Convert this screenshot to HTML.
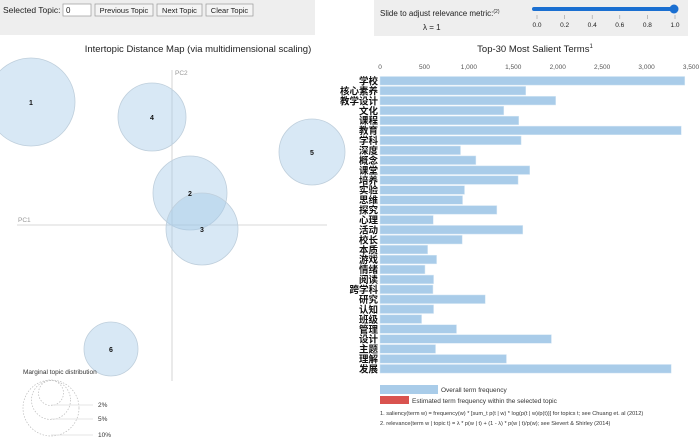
<!DOCTYPE html>
<html><head><meta charset="utf-8">
<style>
body{margin:0;width:700px;height:438px;overflow:hidden;background:#fff;font-family:"Liberation Sans","Noto Sans CJK SC",sans-serif;}
svg text{font-family:"Liberation Sans","Noto Sans CJK SC",sans-serif;}
</style></head><body>
<svg width="700" height="438" xmlns="http://www.w3.org/2000/svg" id="root">
<rect x="0" y="0" width="315" height="35" fill="#eeeeee"/>
<text x="3" y="13" font-size="8.5" fill="#222">Selected Topic:</text>
<rect x="63" y="4" width="28" height="12" fill="#fff" stroke="#999" stroke-width="0.7"/>
<text x="66" y="13" font-size="8" fill="#222">0</text>
<g><rect x="95" y="4" width="58" height="12" fill="#f4f4f4" stroke="#999" stroke-width="0.7"/><text x="124" y="13" font-size="7.5" text-anchor="middle" fill="#222">Previous Topic</text></g>
<g><rect x="157" y="4" width="45" height="12" fill="#f4f4f4" stroke="#999" stroke-width="0.7"/><text x="179.5" y="13" font-size="7.5" text-anchor="middle" fill="#222">Next Topic</text></g>
<g><rect x="206" y="4" width="47" height="12" fill="#f4f4f4" stroke="#999" stroke-width="0.7"/><text x="229.5" y="13" font-size="7.5" text-anchor="middle" fill="#222">Clear Topic</text></g>

<rect x="374" y="0" width="314" height="36" fill="#eeeeee"/>
<text x="380" y="16" font-size="8" fill="#222">Slide to adjust relevance metric:<tspan font-size="5" dy="-3">(2)</tspan></text>
<text x="423" y="30" font-size="8" fill="#222">λ = 1</text>
<line x1="534" y1="9" x2="675" y2="9" stroke="#1a6fd1" stroke-width="4" stroke-linecap="round"/>
<circle cx="674" cy="9" r="4.5" fill="#1a6fd1"/>
<g id="slider-ticks" font-size="6.5" fill="#222" text-anchor="middle"></g>

<text x="198" y="52" font-size="9.5" text-anchor="middle" fill="#222">Intertopic Distance Map (via multidimensional scaling)</text>
<text x="535" y="52" font-size="9.5" text-anchor="middle" fill="#222">Top-30 Most Salient Terms<tspan font-size="6" dy="-4">1</tspan></text>

<g>
<line x1="172" y1="70" x2="172" y2="381" stroke="#ccc" stroke-width="0.8"/>
<line x1="17" y1="225" x2="327" y2="225" stroke="#ccc" stroke-width="0.8"/>
<text x="175" y="75" font-size="6.5" fill="#999">PC2</text>
<text x="18" y="222" font-size="6.5" fill="#999">PC1</text>
</g>
<g id="topics"></g>

<g>
<text x="23" y="374" font-size="6.5" fill="#333">Marginal topic distribution</text>
<circle cx="51" cy="408" r="28" fill="none" stroke="#bbb" stroke-dasharray="1.5,1.5" stroke-width="0.7"/>
<circle cx="51" cy="400" r="19.5" fill="none" stroke="#bbb" stroke-dasharray="1.5,1.5" stroke-width="0.7"/>
<circle cx="51" cy="393" r="12.5" fill="none" stroke="#bbb" stroke-dasharray="1.5,1.5" stroke-width="0.7"/>
<line x1="51" y1="405" x2="93" y2="405" stroke="#ddd" stroke-width="0.7"/>
<line x1="51" y1="419" x2="93" y2="419" stroke="#ddd" stroke-width="0.7"/>
<line x1="51" y1="435" x2="93" y2="435" stroke="#ddd" stroke-width="0.7"/>
<text x="98" y="407" font-size="6.5" fill="#333">2%</text>
<text x="98" y="421" font-size="6.5" fill="#333">5%</text>
<text x="98" y="437" font-size="6.5" fill="#333">10%</text>
</g>

<g id="bar-chart"></g>

<g>
<rect x="380" y="385" width="58" height="9" fill="#a9cce9"/>
<text x="441" y="392" font-size="6.5" fill="#333">Overall term frequency</text>
<rect x="380" y="396" width="29" height="8" fill="#d9534f"/>
<text x="412" y="403" font-size="6.5" fill="#333">Estimated term frequency within the selected topic</text>
<text x="380" y="415" font-size="5.6" fill="#333">1. saliency(term w) = frequency(w) * [sum_t p(t | w) * log(p(t | w)/p(t))] for topics t; see Chuang et. al (2012)</text>
<text x="380" y="425" font-size="5.6" fill="#333">2. relevance(term w | topic t) = λ * p(w | t) + (1 - λ) * p(w | t)/p(w); see Sievert &amp; Shirley (2014)</text>
</g>
</svg>
<script>
const terms=["学校","核心素养","教学设计","文化","课程","教育","学科","深度","概念","课堂","培养","实验","思维","探究","心理","活动","校长","本质","游戏","情绪","阅读","跨学科","研究","认知","班级","管理","设计","主题","理解","发展"];
const freqs=[3430,1640,1977,1393,1562,3390,1588,906,1079,1685,1554,951,929,1315,599,1607,925,536,637,506,603,596,1184,603,468,861,1929,625,1423,3277];
const xTicks=[0,500,1000,1500,2000,2500,3000,3500];
const topicIds=["1","2","3","4","5","6"];
const topicX=[31,190,202,152,312,111];
const topicY=[102,193,229,117,152,349];
const topicR=[44,37,36,34,33,27];
const sliderTicks=[0,0.2,0.4,0.6,0.8,1.0];
const NS="http://www.w3.org/2000/svg";
function mk(t,a){const e=document.createElementNS(NS,t);for(const k in a)e.setAttribute(k,a[k]);return e;}
const xs=v=>380+v*(311/3500);
const ys=i=>76.5+i*9.93;
const sx=v=>537+v*138;
const st=document.getElementById('slider-ticks');
sliderTicks.forEach(v=>{
 const l=mk('line',{x1:sx(v),y1:15,x2:sx(v),y2:19,stroke:'#999','stroke-width':0.6});
 
 
 st.appendChild(l);
 const t=mk('text',{x:sx(v),y:27});t.textContent=v.toFixed(1);
 
 
 st.appendChild(t);
});
const tg=document.getElementById('topics');
topicIds.forEach((id,i)=>{
 const c=mk('circle',{cx:topicX[i],cy:topicY[i],r:topicR[i],fill:'rgba(161,199,230,0.42)',stroke:'#bfcfdc','stroke-width':0.8});
 
 
 tg.appendChild(c);
});
topicIds.forEach((id,i)=>{
 const t=mk('text',{x:topicX[i],y:topicY[i]+3,'font-size':7,'font-weight':'bold','text-anchor':'middle',fill:'#111'});
 t.textContent=id;
 
 
 tg.appendChild(t);
});
const bg=document.getElementById('bar-chart');
xTicks.forEach(v=>{
 const t=mk('text',{x:xs(v),y:69,'font-size':6.5,'text-anchor':'middle',fill:'#555'});
 t.textContent=v.toLocaleString('en-US');
 
 
 bg.appendChild(t);
});
terms.forEach((w,i)=>{
 const r=mk('rect',{x:xs(0),y:ys(i),width:xs(freqs[i])-xs(0),height:8.6,fill:'#a9cce9',stroke:'#d6e7f4','stroke-width':0.5});
 
 
 bg.appendChild(r);
 const t=mk('text',{x:378,y:ys(i)+8,'font-size':9.5,'font-weight':'bold','text-anchor':'end',fill:'#111'});
 t.textContent=w;
 
 
 bg.appendChild(t);
});
</script>
</body></html>
